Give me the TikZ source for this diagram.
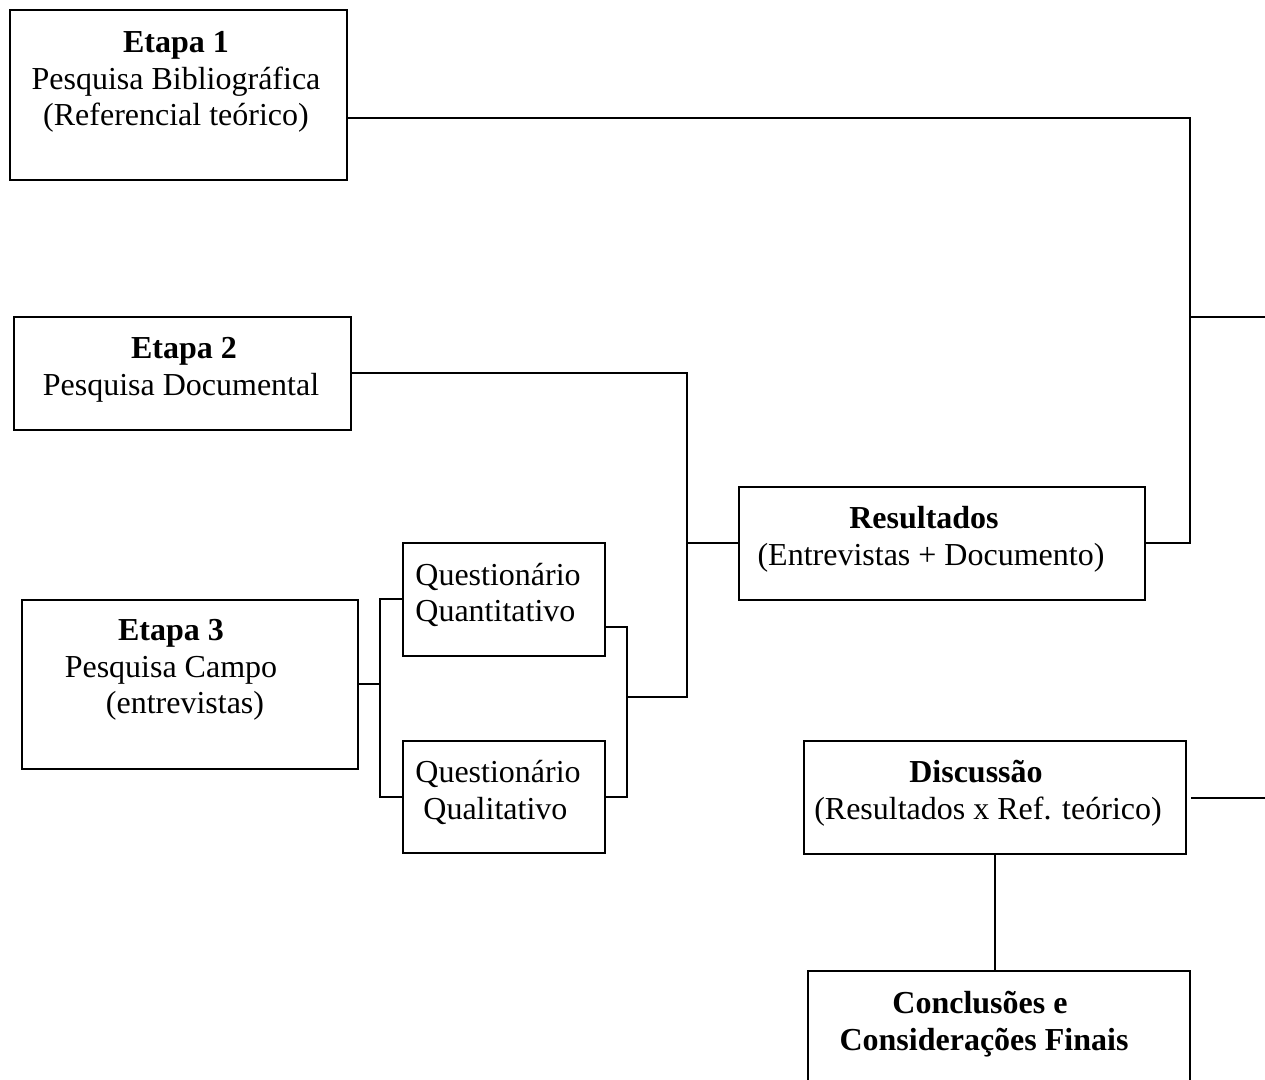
\documentclass[tikz,border=0pt]{standalone}
\usepackage{fontspec}
\setmainfont{Liberation Serif}
\tikzstyle{box}=[draw,line width=1pt,rectangle,inner sep=0pt]
\tikzstyle{edge}=[draw,line width=1pt,-]
\tikzstyle{txt}=[inner sep=0pt,align=center,font=\fontsize{16}{18.4}\selectfont]
\tikzstyle{txtl}=[txt,align=left,anchor=west]

\begin{document}
\begin{tikzpicture}[x=0.5pt,y=-0.5pt]
    \useasboundingbox (0,0) rectangle (1265,1080);
    \clip (0,0) rectangle (1265,1080);
    % First we draw the boxes
    \foreach \name/\pos/\w/\h in {e1/{(178.5,95)}/337/170, e2/{(182.5,373.5)}/337/113,
        e3/{(190,684.5)}/336/169, quant/{(504,599.5)}/202/113, qual/{(504,797)}/202/112,
        res/{(942,543.5)}/406/113, disc/{(995,797.5)}/382/113, conc/{(999,1060)}/382/178}
        \node[box,minimum width=\w*0.5pt,minimum height=\h*0.5pt] (\name) at \pos {};
    % Texts inside the boxes
    \node[txt] (t1) at (176,82) {\textbf{Etapa 1}\\Pesquisa Bibliográfica\\(Referencial teórico)};
    \node[txt] (t2) at (181,370) {\hspace*{3pt}\textbf{Etapa 2}\\Pesquisa Documental};
    \node[txt] (t3) at (171,670) {\textbf{Etapa 3}\\Pesquisa Campo\\\hspace*{14pt}(entrevistas)};
    \node[txtl] (tquant) at (415,595) {Questionário\\Quantitativo};
    \node[txtl] (tqual) at (415,792.5) {Questionário\\\hspace*{4pt}Qualitativo};
    \node[txt] (tres) at (931,539.5) {\textbf{Resultados}\hspace*{7pt}\\(Entrevistas + Documento)};
    \node[txt] (tdisc) at (988,793) {\textbf{Discussão}\hspace*{12pt}\\(Resultados x Ref. teórico)};
    \node[txt] (tconc) at (984,1024) {\textbf{Conclusões e}\hspace*{4pt}\\\textbf{Considerações Finais}};
    % Junctions of the connectors
    \coordinate (rbus) at (1190,317);
    \coordinate (rout) at (1265,317);
    \coordinate (mbus) at (687,543.5);
    \coordinate (qbus) at (627,697);
    \coordinate (lbus) at (380,684.5);
    \coordinate (dout) at (1265,797.5);
    % Connect boxes with lines
    \path[edge] ([yshift=-11.5pt]e1.east) -| (rbus) |- (res.east);
    \path[edge] (rbus) -- (rout);
    \path[edge] (e2.east) -| (mbus) |- (qbus);
    \path[edge] (mbus) -- (res.west);
    \path[edge] ([yshift=-14pt]quant.east) -| (qbus) |- (qual.east);
    \path[edge] (e3.east) -- (lbus);
    \path[edge] (quant.west) -| (lbus) |- (qual.west);
    \path[edge] ([xshift=2pt]disc.east) -- (dout);
    \path[edge] (disc.south) -- (disc.south |- conc.north);
\end{tikzpicture}
\end{document}
